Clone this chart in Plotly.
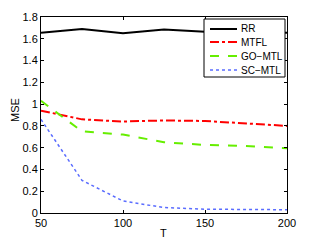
import plotly.graph_objects as go

T = [50, 75, 100, 125, 150, 175, 200]
rr = [1.655, 1.69, 1.65, 1.685, 1.665, 1.67, 1.655]
mtfl = [0.94, 0.86, 0.84, 0.85, 0.845, 0.825, 0.80]
gomtl = [1.03, 0.75, 0.72, 0.65, 0.625, 0.615, 0.595]
scmtl = [0.86, 0.30, 0.11, 0.05, 0.035, 0.032, 0.03]

series = [
    ("RR", rr, "black", "solid", 2),
    ("MTFL", mtfl, "#ff0000", "dashdot", 2),
    ("GO\u2212MTL", gomtl, "#66ee00", "dash", 2),
    ("SC\u2212MTL", scmtl, "#5a6cff", "dot", 1.5),
]

# plot area in pixels (for the manual legend)
L, R, TOP, BOT = 41, 287, 17, 213
W, H = R - L, BOT - TOP

def px(x):
    return (x - L) / W

def py(y):
    return (BOT - y) / H

fig = go.Figure()
for name, y, c, d, w in series:
    fig.add_trace(go.Scatter(x=T, y=y, mode="lines", name=name, showlegend=False,
                             line=dict(color=c, dash=d, width=w)))

shapes = [dict(type="rect", xref="paper", yref="paper", x0=px(204), x1=px(285),
               y0=py(77), y1=py(19), fillcolor="white", line=dict(color="black", width=1),
               layer="above")]
annotations = []
legend_y = [29, 42, 56, 70]
for (name, y, c, d, w), ly in zip(series, legend_y):
    shapes.append(dict(type="line", xref="paper", yref="paper", x0=px(210), x1=px(237),
                       y0=py(ly), y1=py(ly), line=dict(color=c, dash=d, width=w),
                       layer="above"))
    annotations.append(dict(text=name, xref="paper", yref="paper", x=px(239), y=py(ly),
                            xanchor="left", yanchor="middle", showarrow=False,
                            font=dict(size=10, color="black")))

annotations.append(dict(text="MSE", xref="paper", yref="paper", x=px(15), y=py(110),
                        xanchor="center", yanchor="middle", textangle=-90, showarrow=False,
                        font=dict(size=11, color="black")))
annotations.append(dict(text="T", xref="paper", yref="paper", x=px(163), y=py(233),
                        xanchor="center", yanchor="middle", showarrow=False,
                        font=dict(size=11, color="black")))

axis_common = dict(showgrid=False, zeroline=False, showline=True, linecolor="black",
                   linewidth=1, mirror="allticks", ticks="inside", ticklen=3,
                   tickcolor="black", tickfont=dict(size=11, color="black"),
                   automargin=False)
fig.update_xaxes(range=[50, 200], tickvals=[50, 100, 150, 200], **axis_common)
fig.update_yaxes(range=[0, 1.8], tickvals=[0, 0.2, 0.4, 0.6, 0.8, 1, 1.2, 1.4, 1.6, 1.8],
                 ticktext=["0", "0.2", "0.4", "0.6", "0.8", "1", "1.2", "1.4", "1.6", "1.8"],
                 **axis_common)
fig.update_layout(
    width=316, height=240,
    margin=dict(l=L, r=316 - R, t=TOP, b=240 - BOT),
    plot_bgcolor="white", paper_bgcolor="white",
    font=dict(family="Liberation Sans, Arial, sans-serif", size=11, color="black"),
    showlegend=False,
    shapes=shapes, annotations=annotations,
)
fig.write_html("out.html", config={"displayModeBar": False},
               post_script="document.body.style.margin='0';document.body.style.overflow='hidden';")
